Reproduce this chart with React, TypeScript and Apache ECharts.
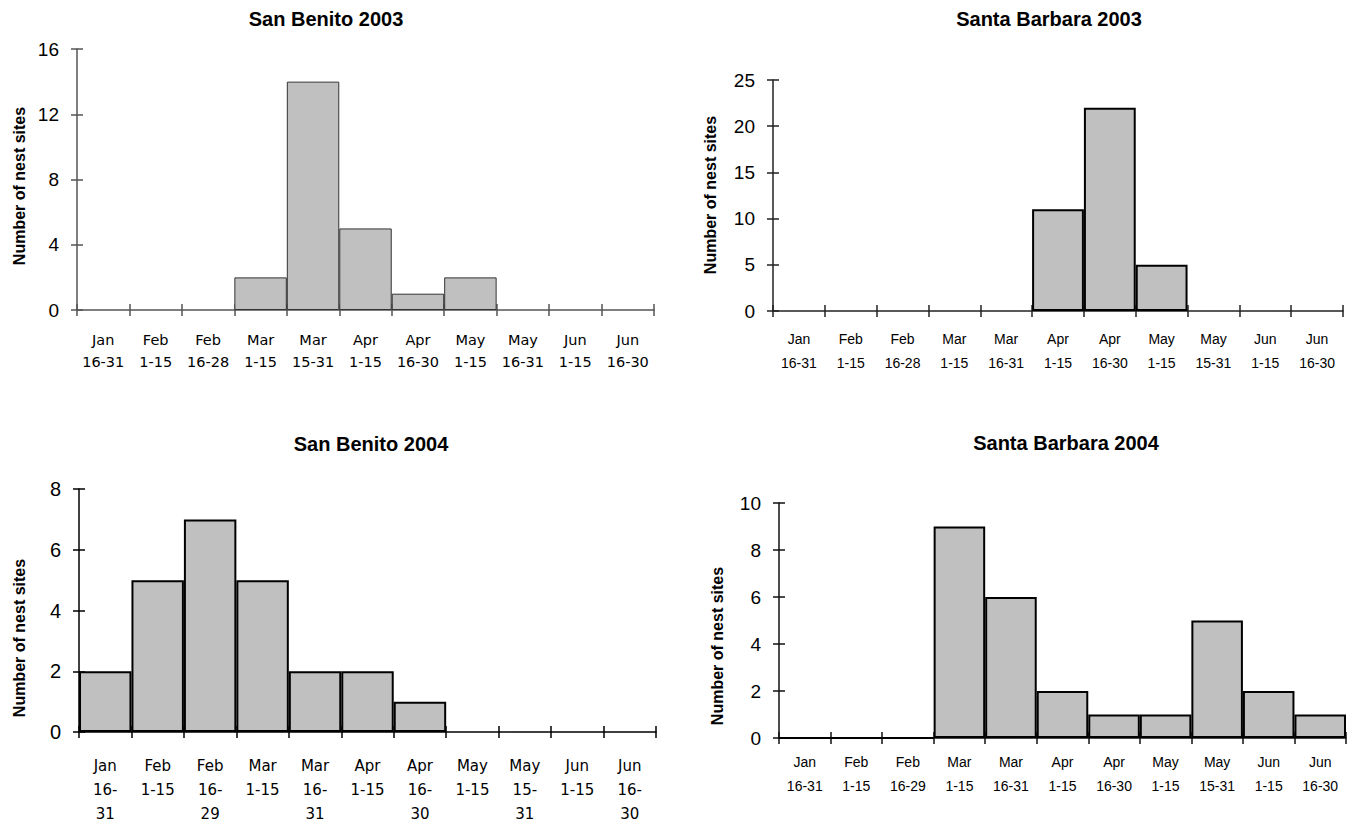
import React, { useEffect, useRef } from "react";
import * as echarts from "echarts";

const catsSB03 = ["Jan\n16-31", "Feb\n1-15", "Feb\n16-28", "Mar\n1-15", "Mar\n15-31", "Apr\n1-15", "Apr\n16-30", "May\n1-15", "May\n16-31", "Jun\n1-15", "Jun\n16-30"];
const catsSBa03 = ["Jan\n16-31", "Feb\n1-15", "Feb\n16-28", "Mar\n1-15", "Mar\n16-31", "Apr\n1-15", "Apr\n16-30", "May\n1-15", "May\n15-31", "Jun\n1-15", "Jun\n16-30"];
const catsSB04 = ["Jan\n16-\n31", "Feb\n1-15", "Feb\n16-\n29", "Mar\n1-15", "Mar\n16-\n31", "Apr\n1-15", "Apr\n16-\n30", "May\n1-15", "May\n15-\n31", "Jun\n1-15", "Jun\n16-\n30"];
const catsSBa04 = ["Jan\n16-31", "Feb\n1-15", "Feb\n16-29", "Mar\n1-15", "Mar\n16-31", "Apr\n1-15", "Apr\n16-30", "May\n1-15", "May\n15-31", "Jun\n1-15", "Jun\n16-30"];

const valsSB03 = [0, 0, 0, 2, 14, 5, 1, 2, 0, 0, 0];
const valsSBa03 = [0, 0, 0, 0, 0, 11, 22, 5, 0, 0, 0];
const valsSB04 = [2, 5, 7, 5, 2, 2, 1, 0, 0, 0, 0];
const valsSBa04 = [0, 0, 0, 9, 6, 2, 1, 1, 5, 2, 1];

const titles = ["San Benito 2003", "Santa Barbara 2003", "San Benito 2004", "Santa Barbara 2004"];
const yName = "Number of nest sites";

const panels = [
  {
    cats: catsSB03, vals: valsSB03, title: titles[0], max: 16, interval: 4,
    grid: { left: 77, top: 49, width: 577, height: 261 },
    axisColor: "#555", barBorder: "#333", barBorderWidth: 1, drawZeros: false,
    labelFont: "DejaVu Sans", labelSize: 14.5, lineHeight: 22, labelMargin: 19,
    titleX: 326, titleY: 19, nameX: 19, nameY: 186,
  },
  {
    cats: catsSBa03, vals: valsSBa03, title: titles[1], max: 25, interval: 5,
    grid: { left: 773, top: 80, width: 570, height: 231 },
    axisColor: "#222", barBorder: "#000", barBorderWidth: 2, drawZeros: false,
    labelFont: "Liberation Sans", labelSize: 14, lineHeight: 24, labelMargin: 16,
    titleX: 1049, titleY: 19, nameX: 710, nameY: 195,
  },
  {
    cats: catsSB04, vals: valsSB04, title: titles[2], max: 8, interval: 2,
    grid: { left: 79, top: 489, width: 577, height: 248 },
    axisColor: "#000", barBorder: "#000", barBorderWidth: 2, drawZeros: false,
    labelFont: "DejaVu Sans", labelSize: 15, lineHeight: 24, labelMargin: 22,
    titleX: 371, titleY: 444, nameX: 19, nameY: 638,
  },
  {
    cats: catsSBa04, vals: valsSBa04, title: titles[3], max: 10, interval: 2,
    grid: { left: 779, top: 503, width: 567, height: 235 },
    axisColor: "#111", barBorder: "#000", barBorderWidth: 2, drawZeros: true,
    labelFont: "Liberation Sans", labelSize: 14, lineHeight: 24, labelMargin: 12,
    titleX: 1066, titleY: 443, nameX: 717, nameY: 646,
  },
];

function buildOption() {
  const grid: any[] = [];
  const xAxis: any[] = [];
  const yAxis: any[] = [];
  const series: any[] = [];
  const graphic: any[] = [];
  panels.forEach((p, i) => {
    grid.push({ ...p.grid, containLabel: false });
    const lineStyle = { color: p.axisColor, width: 1.5 };
    xAxis.push({
      type: "category", gridIndex: i, data: p.cats, position: "bottom",
      boundaryGap: true,
      axisLine: { show: true, onZero: false, lineStyle },
      axisTick: { show: true, inside: false, length: 6, interval: 0, alignWithLabel: false, lineStyle },
      axisLabel: {
        interval: 0, margin: p.labelMargin, color: "#000",
        fontFamily: p.labelFont, fontSize: p.labelSize, lineHeight: p.lineHeight,
        verticalAlign: "top",
      },
      splitLine: { show: false },
    });
    xAxis.push({
      type: "category", gridIndex: i, data: p.cats, position: "bottom",
      boundaryGap: true,
      axisLine: { show: false, onZero: false },
      axisTick: { show: true, inside: true, length: 6, interval: 0, alignWithLabel: false, lineStyle },
      axisLabel: { show: false },
      splitLine: { show: false },
    });
    yAxis.push({
      type: "value", gridIndex: i, min: 0, max: p.max, interval: p.interval, position: "left",
      axisLine: { show: true, lineStyle },
      axisTick: { show: true, inside: false, length: 6, lineStyle },
      axisLabel: { margin: 18, color: "#000", fontFamily: "Liberation Sans", fontSize: i === 2 ? 20 : 19 },
      splitLine: { show: false },
    });
    yAxis.push({
      type: "value", gridIndex: i, min: 0, max: p.max, interval: p.interval, position: "left",
      axisLine: { show: false },
      axisTick: { show: true, inside: true, length: 6, lineStyle },
      axisLabel: { show: false },
      splitLine: { show: false },
    });
    series.push({
      type: "bar", xAxisIndex: i * 2, yAxisIndex: i * 2,
      data: p.vals.map((v) => (v === 0 && !p.drawZeros ? "-" : v)),
      barCategoryGap: "0%", barGap: "0%",
      itemStyle: { color: "#c0c0c0", borderColor: p.barBorder, borderWidth: p.barBorderWidth },
      silent: true,
    });
    graphic.push({
      type: "text", x: p.titleX, y: p.titleY,
      style: {
        text: p.title, fill: "#000", font: "bold 20px 'Liberation Sans', Arial, sans-serif",
        textAlign: "center", textVerticalAlign: "middle",
      },
    });
    graphic.push({
      type: "text", x: p.nameX, y: p.nameY, rotation: Math.PI / 2,
      style: {
        text: yName, fill: "#000", font: "bold 16px 'Liberation Sans', Arial, sans-serif",
        textAlign: "center", textVerticalAlign: "middle",
      },
    });
  });
  return {
    animation: false,
    backgroundColor: "#fff",
    grid, xAxis, yAxis, series, graphic,
  };
}

export default function App() {
  const ref = useRef<HTMLDivElement>(null);
  useEffect(() => {
    if (!ref.current) return;
    const chart = echarts.init(ref.current, undefined, { renderer: "svg" });
    chart.setOption(buildOption() as any);
    return () => chart.dispose();
  }, []);
  return (
    <div
      ref={ref}
      style={{ position: "absolute", left: 0, top: 0, width: 1349, height: 826, background: "#fff" }}
    />
  );
}
